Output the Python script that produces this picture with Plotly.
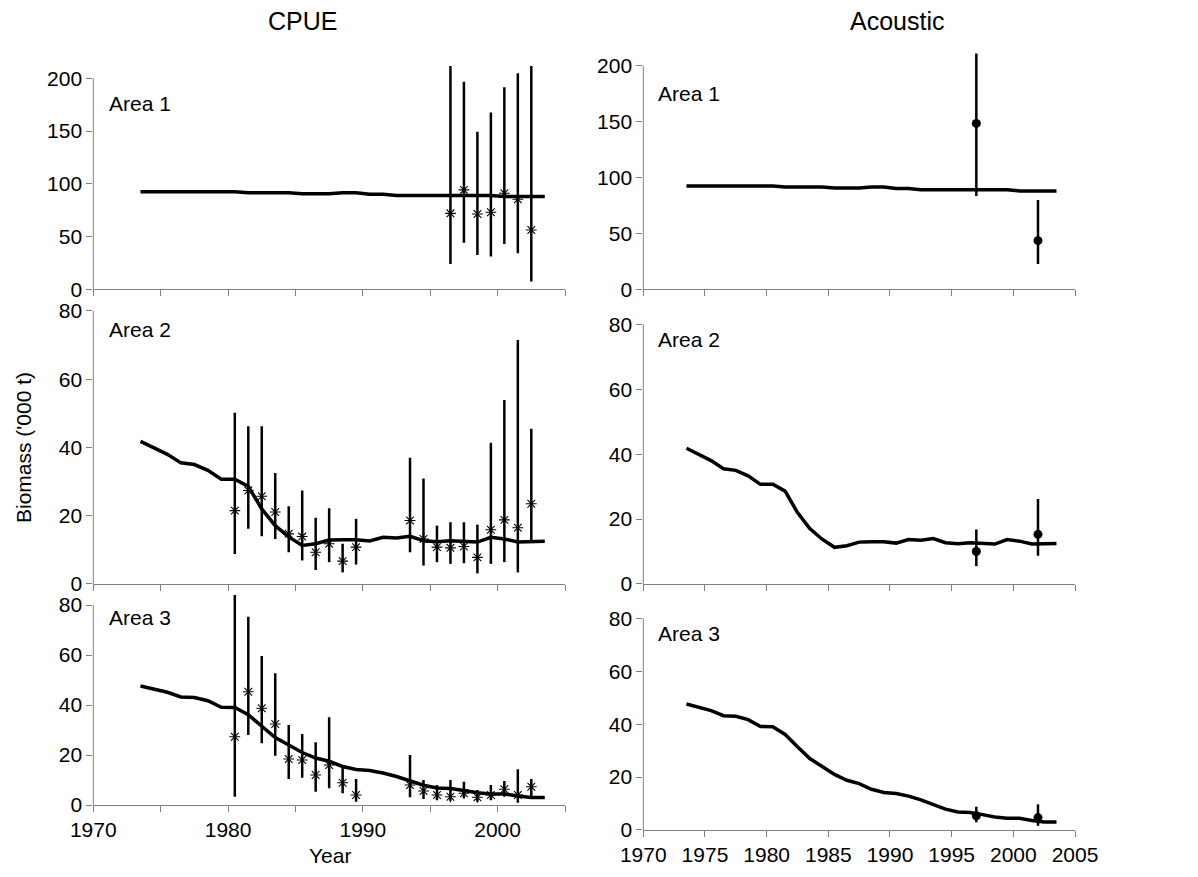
import plotly.graph_objects as go

# page body has an 8px margin; figure is sized so that it fits a 1198x877 window
OFF = 8
W, H = 1198 - 2 * OFF, 877 - 2 * OFF

# ---------------- data ----------------
model_x = [1973.5 + i for i in range(31)]
model_area1 = [92.4, 92.4, 92.4, 92.4, 92.4, 92.4, 92.4, 92.4, 91.5, 91.5, 91.5, 91.5,
               90.6, 90.6, 90.6, 91.5, 91.5, 90.2, 90.2, 89.0, 89.0, 89.0, 89.0, 89.0,
               89.0, 89.0, 89.0, 88.0, 88.0, 88.0, 88.0]
model_area2 = [41.8, 40.0, 38.0, 35.5, 35.0, 33.3, 30.7, 30.7, 28.6, 22.0, 17.1, 13.8,
               11.3, 11.8, 12.9, 13.0, 13.0, 12.6, 13.7, 13.5, 14.0, 12.7, 12.4, 12.7,
               12.4, 12.3, 13.7, 13.2, 12.3, 12.3, 12.5]
model_area3 = [47.6, 46.4, 45.1, 43.2, 43.0, 41.7, 39.1, 39.0, 36.1, 31.5, 27.0, 24.0,
               21.0, 18.8, 17.5, 15.4, 14.2, 13.8, 12.8, 11.4, 9.8, 7.9, 6.8, 6.6,
               5.8, 4.9, 4.4, 4.4, 3.6, 3.0, 3.0]

cpue1_x = [1996.5, 1997.5, 1998.5, 1999.5, 2000.5, 2001.5, 2002.5]
cpue1_val = [72.0, 94.2, 71.4, 73.0, 91.0, 85.3, 56.2]
cpue1_lo = [24.0, 44.2, 32.5, 31.0, 43.0, 34.1, 7.3]
cpue1_hi = [211.7, 196.8, 149.4, 167.5, 191.5, 204.7, 211.7]

cpue_x = [1980.5, 1981.5, 1982.5, 1983.5, 1984.5, 1985.5, 1986.5, 1987.5, 1988.5, 1989.5,
          1993.5, 1994.5, 1995.5, 1996.5, 1997.5, 1998.5, 1999.5, 2000.5, 2001.5, 2002.5]
cpue2_val = [21.5, 27.4, 25.7, 21.1, 14.7, 13.9, 9.3, 11.8, 6.7, 10.8,
             18.6, 13.2, 10.8, 10.6, 11.0, 7.8, 15.9, 18.8, 16.5, 23.5]
cpue2_lo = [8.8, 16.2, 14.0, 13.2, 9.3, 6.9, 4.1, 6.4, 3.4, 5.7,
            9.3, 5.4, 6.4, 5.9, 6.1, 3.1, 5.9, 6.4, 3.4, 12.2]
cpue2_hi = [50.2, 46.2, 46.2, 32.5, 22.8, 27.4, 19.4, 22.2, 11.8, 19.1,
            37.0, 30.9, 17.1, 18.1, 18.1, 17.4, 41.4, 53.9, 71.5, 45.5]
cpue3_val = [27.3, 45.3, 38.7, 32.4, 18.4, 18.0, 12.0, 16.0, 8.9, 4.0,
             8.0, 5.6, 4.0, 3.3, 4.7, 3.1, 4.0, 6.3, 4.0, 7.3]
cpue3_lo = [3.3, 28.0, 24.7, 19.7, 10.4, 10.9, 5.3, 6.7, 4.7, 1.3,
            3.1, 2.4, 2.0, 1.7, 2.7, 1.3, 2.0, 3.3, 0.9, 3.6]
cpue3_hi = [84.0, 75.3, 59.6, 52.7, 32.0, 28.4, 25.1, 35.1, 16.0, 10.4,
            20.0, 10.0, 8.0, 10.0, 9.3, 6.0, 8.0, 9.6, 14.3, 10.4]

ac_x = [1997.0, 2002.0]
ac1_val = [148.4, 43.5]
ac1_lo = [83.5, 22.7]
ac1_hi = [211.0, 79.9]
ac2_val = [10.0, 15.3]
ac2_lo = [5.5, 8.7]
ac2_hi = [16.8, 26.2]
ac3_val = [5.4, 4.7]
ac3_lo = [2.9, 1.6]
ac3_hi = [8.8, 9.7]

col_titles = ["CPUE", "Acoustic"]
area_labels = ["Area 1", "Area 2", "Area 3"]
y_ticks_row = [[0, 50, 100, 150, 200], [0, 20, 40, 60, 80], [0, 20, 40, 60, 80]]
x_ticks = [1970, 1975, 1980, 1985, 1990, 1995, 2000, 2005]
x_text_left = ["1970", "", "1980", "", "1990", "", "2000", ""]
x_text_right = [str(v) for v in x_ticks]

# ---------------- layout geometry (window pixels) ----------------
cols = [(93.3, 565.0), (643.3, 1075.0)]
rows_geo = [
    [(289.3, 78.3, 200, 212), (584.0, 311.0, 80, 85), (805.0, 605.0, 80, 85)],
    [(289.3, 65.7, 200, 212), (584.0, 324.3, 80, 85), (830.0, 618.3, 80, 85)],
]
label_pos = [[(107, 104), (107, 329), (107, 617.5)],
             [(656, 94), (656, 339.5), (656, 633)]]


def px(x):
    return (x - OFF) / W


def py(y):
    return 1 - (y - OFF) / H


FONT = "Liberation Sans, Arial, sans-serif"
AXC = "#808080"

fig = go.Figure()
layout = dict(width=W, height=H, margin=dict(l=0, r=0, t=0, b=0, autoexpand=False),
              template="none",
              paper_bgcolor="white", plot_bgcolor="white", showlegend=False,
              font=dict(family=FONT, size=21, color="black"))
shapes = []
annotations = []

models = [model_area1, model_area2, model_area3]
obs = [
    [(cpue1_x, cpue1_val, cpue1_lo, cpue1_hi), (cpue_x, cpue2_val, cpue2_lo, cpue2_hi),
     (cpue_x, cpue3_val, cpue3_lo, cpue3_hi)],
    [(ac_x, ac1_val, ac1_lo, ac1_hi), (ac_x, ac2_val, ac2_lo, ac2_hi),
     (ac_x, ac3_val, ac3_lo, ac3_hi)],
]

n = 0
for c in range(2):
    xl, xr = cols[c]
    for r in range(3):
        n += 1
        sfx = "" if n == 1 else str(n)
        y0px, ytpx, ytop, ymax = rows_geo[c][r]
        scale = (y0px - ytpx) / ytop
        ymaxpx = y0px - ymax * scale
        xdom = [px(xl), px(xr)]
        ydom = [py(y0px), py(ymaxpx)]
        bottom = (r == 2)
        layout["xaxis" + sfx] = dict(
            domain=xdom, range=[1970, 2005], anchor="y" + sfx, automargin=False,
            tickmode="array", tickvals=x_ticks,
            ticktext=(x_text_left if c == 0 else x_text_right),
            showticklabels=bottom, ticks="outside", ticklen=6, tickwidth=1,
            tickcolor=AXC, showline=True, linecolor=AXC, linewidth=1,
            showgrid=False, zeroline=False, tickfont=dict(size=21),
        )
        layout["yaxis" + sfx] = dict(
            domain=ydom, range=[0, ymax], anchor="x" + sfx, automargin=False,
            tickmode="array", tickvals=y_ticks_row[r],
            ticks="outside", ticklen=6, tickwidth=1, tickcolor=AXC,
            showline=False, showgrid=False, zeroline=False, tickfont=dict(size=21),
        )
        shapes.append(dict(type="line", xref="x%s domain" % sfx, yref="y" + sfx,
                           x0=0, x1=0, y0=0, y1=ytop,
                           line=dict(color=AXC, width=1)))
        fig.add_trace(go.Scatter(x=model_x, y=models[r], mode="lines",
                                 line=dict(color="black", width=3.5),
                                 xaxis="x" + sfx, yaxis="y" + sfx, hoverinfo="skip"))
        ox, ov, olo, ohi = obs[c][r]
        fig.add_trace(go.Scatter(
            x=ox, y=ov, mode="markers",
            marker=(dict(symbol="asterisk-open", size=9, color="black",
                         line=dict(color="black", width=1.1)) if c == 0
                    else dict(symbol="circle", size=9, color="black")),
            error_y=dict(type="data", symmetric=False,
                         array=[h - v for h, v in zip(ohi, ov)],
                         arrayminus=[v - l for v, l in zip(ov, olo)],
                         width=0, thickness=2.5, color="black"),
            xaxis="x" + sfx, yaxis="y" + sfx, cliponaxis=False))
        lx, ly = label_pos[c][r]
        annotations.append(dict(text=area_labels[r], xref="paper", yref="paper",
                                x=px(lx), y=py(ly), xanchor="left", yanchor="middle",
                                showarrow=False, font=dict(size=21)))

annotations.append(dict(text=col_titles[0], xref="paper", yref="paper",
                        x=px(302), y=py(21), xanchor="center", yanchor="middle",
                        showarrow=False, font=dict(size=25)))
annotations.append(dict(text=col_titles[1], xref="paper", yref="paper",
                        x=px(897), y=py(21), xanchor="center", yanchor="middle",
                        showarrow=False, font=dict(size=25)))
annotations.append(dict(text="Biomass ('000 t)", xref="paper", yref="paper",
                        x=px(23), y=py(448), xanchor="center", yanchor="middle",
                        textangle=-90, showarrow=False, font=dict(size=21)))
annotations.append(dict(text="Year", xref="paper", yref="paper",
                        x=px(330), y=0, xanchor="center", yanchor="bottom",
                        showarrow=False, font=dict(size=21)))

layout["shapes"] = shapes
layout["annotations"] = annotations
fig.update_layout(**layout)
fig.write_html("out.html")
